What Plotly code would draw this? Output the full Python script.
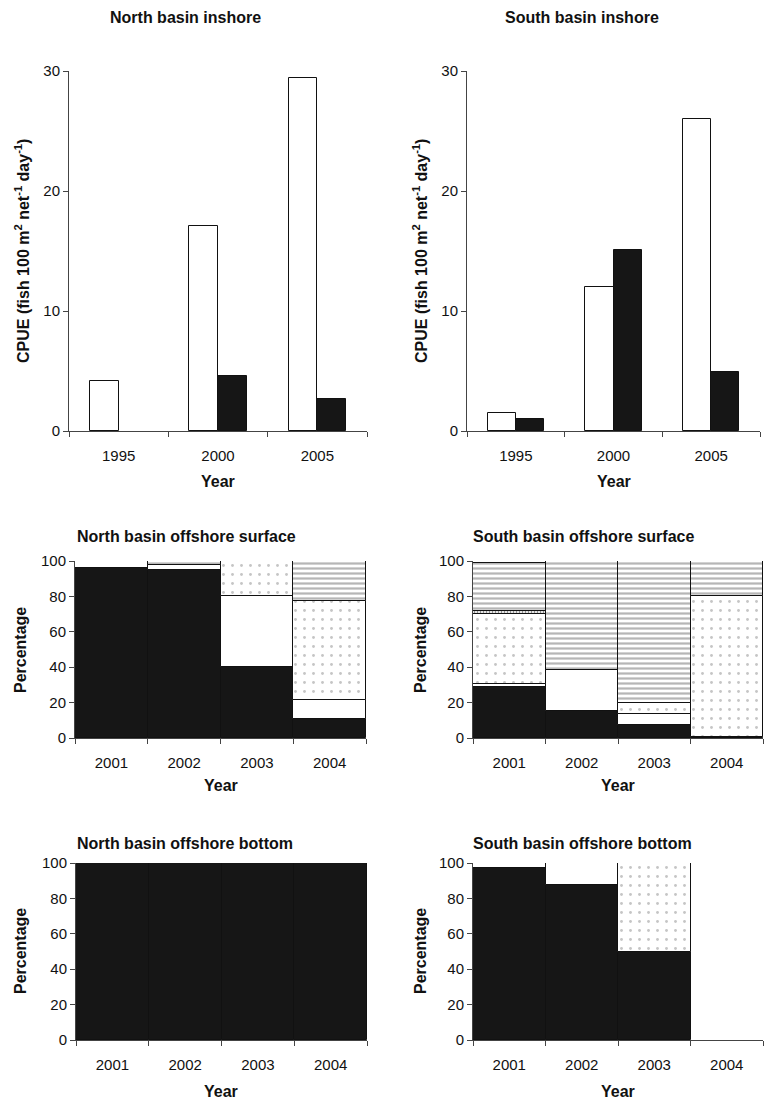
import numpy as np
import plotly.graph_objects as go

W, H = 766, 1102

# ---------------- data ----------------
inshore_years = ["1995", "2000", "2005"]
north_inshore_white = [4.2, 17.1, 29.4]
north_inshore_black = [0.0, 4.6, 2.7]
south_inshore_white = [1.5, 12.0, 26.0]
south_inshore_black = [1.0, 15.1, 4.9]

offshore_years = ["2001", "2002", "2003", "2004"]
# north basin offshore surface (percentages, stacked bottom -> top)
ns_black = [96.0, 95.0, 40.0, 10.5]
ns_white = [4.0, 2.5, 40.0, 11.0]
ns_dotted = [0.0, 0.0, 20.0, 56.0]
ns_dash = [0.0, 0.0, 0.0, 0.0]
ns_hatched = [0.0, 2.5, 0.0, 22.5]
# south basin offshore surface
ss_black = [28.8, 15.2, 7.3, 0.7]
ss_white = [1.7, 23.2, 6.2, 0.0]
ss_dotted = [39.5, 0.0, 6.3, 79.5]
ss_dash = [1.8, 0.0, 0.0, 0.0]
ss_hatched = [27.0, 61.6, 80.2, 19.8]
# north basin offshore bottom
nb_black = [100.0, 100.0, 100.0, 100.0]
nb_white = [0.0, 0.0, 0.0, 0.0]
nb_dotted = [0.0, 0.0, 0.0, 0.0]
nb_dash = [0.0, 0.0, 0.0, 0.0]
nb_hatched = [0.0, 0.0, 0.0, 0.0]
# south basin offshore bottom
sb_black = [97.2, 87.6, 50.0, 0.0]
sb_white = [2.8, 12.4, 0.0, 0.0]
sb_dotted = [0.0, 0.0, 50.0, 0.0]
sb_dash = [0.0, 0.0, 0.0, 0.0]
sb_hatched = [0.0, 0.0, 0.0, 0.0]

FONT = "Liberation Sans, Arial, Helvetica, sans-serif"
AXC = "#444444"
BLACK = "#161616"
TICK_SIZE = 15
LABEL_SIZE = 16

fig = go.Figure()


def px_x(p):
    return p / W


def px_y(p):
    return 1 - p / H


# panel pixel boxes: (left, right, top, bottom)
panels = {
    1: (69, 367, 71, 431),
    2: (467, 760, 71, 431),
    3: (75, 366, 561, 738),
    4: (473, 763, 561, 738),
    5: (76, 367, 863, 1040),
    6: (473, 763, 863, 1040),
}

layout_axes = {}
for i, (l, r, t, b) in panels.items():
    xa = "xaxis" if i == 1 else f"xaxis{i}"
    ya = "yaxis" if i == 1 else f"yaxis{i}"
    inshore = i <= 2
    layout_axes[xa] = dict(
        domain=[px_x(l), px_x(r)], anchor=f"y{'' if i == 1 else i}",
        type="category", range=[-0.5, (2.5 if inshore else 3.5)],
        showline=True, linecolor=AXC, linewidth=1, ticks="outside",
        tickson="boundaries", ticklen=5, tickcolor=AXC, showgrid=False,
        zeroline=False, tickfont=dict(family=FONT, size=TICK_SIZE, color="#111"),
        ticklabelstandoff=11,
        fixedrange=True, automargin=False,
    )
    layout_axes[ya] = dict(
        domain=[px_y(b), px_y(t)], anchor=f"x{'' if i == 1 else i}",
        range=[0, 30] if inshore else [0, 100],
        tickvals=[0, 10, 20, 30] if inshore else [0, 20, 40, 60, 80, 100],
        showline=True, linecolor=AXC, linewidth=1, ticks="outside",
        ticklen=5, tickcolor=AXC, showgrid=False, zeroline=False,
        tickfont=dict(family=FONT, size=TICK_SIZE, color="#111"), fixedrange=True,
        automargin=False,
    )

# inshore grouped bars
bw = 0.29
for i, (wv, bv) in {1: (north_inshore_white, north_inshore_black),
                    2: (south_inshore_white, south_inshore_black)}.items():
    xs = "x" if i == 1 else f"x{i}"
    ys = "y" if i == 1 else f"y{i}"
    fig.add_trace(go.Bar(x=inshore_years, y=[v if v > 0 else None for v in wv],
                         width=bw, offset=-bw, xaxis=xs, yaxis=ys,
                         marker=dict(color="white", line=dict(color="#111", width=1)),
                         showlegend=False))
    fig.add_trace(go.Bar(x=inshore_years, y=[v if v > 0 else None for v in bv],
                         width=bw, offset=0, xaxis=xs, yaxis=ys,
                         marker=dict(color=BLACK, line=dict(color="#111", width=1)),
                         showlegend=False))

styles = [
    dict(color=BLACK),
    dict(color="white"),
    dict(color="white", pattern=dict(shape=".", fgcolor="#8c8c8c", bgcolor="white",
                                      size=9, solidity=0.08)),
    dict(color="white", pattern=dict(shape="|", fgcolor="#222", bgcolor="white",
                                      size=3, solidity=0.5)),
    dict(color="white", pattern=dict(shape="-", fgcolor="#6e6e6e", bgcolor="white",
                                      size=5, solidity=0.45)),
]

stacks = {
    3: [ns_black, ns_white, ns_dotted, ns_dash, ns_hatched],
    4: [ss_black, ss_white, ss_dotted, ss_dash, ss_hatched],
    5: [nb_black, nb_white, nb_dotted, nb_dash, nb_hatched],
    6: [sb_black, sb_white, sb_dotted, sb_dash, sb_hatched],
}
for i, series in stacks.items():
    xs, ys = f"x{i}", f"y{i}"
    base = np.zeros(len(offshore_years))
    for s, st in zip(series, styles):
        vals = np.array(s, dtype=float)
        yv = [v if v > 0 else None for v in vals]
        m = dict(st)
        m["line"] = dict(color="#111", width=1)
        fig.add_trace(go.Bar(x=offshore_years, y=yv, base=base.copy(), width=1.0,
                             xaxis=xs, yaxis=ys, marker=m, showlegend=False))
        base = base + vals

ann = []


def add_text(text, x, y, size=LABEL_SIZE, bold=True, angle=0, xanchor="center"):
    ann.append(dict(text=f"<b>{text}</b>" if bold else text, x=px_x(x), y=px_y(y),
                    xref="paper", yref="paper", showarrow=False, textangle=angle,
                    xanchor=xanchor, yanchor="middle",
                    font=dict(family=FONT, size=size, color="#111")))


# titles
add_text("North basin inshore", 185, 18)
add_text("South basin inshore", 582, 18)
add_text("North basin offshore surface", 75, 536, xanchor="left")
add_text("South basin offshore surface", 471, 536, xanchor="left")
add_text("North basin offshore bottom", 75, 843, xanchor="left")
add_text("South basin offshore bottom", 471, 843, xanchor="left")

# axis titles
cpue = "CPUE (fish 100 m<sup>2</sup> net<sup>-1</sup> day<sup>-1</sup>)"
add_text(cpue, 22, 251, angle=-90)
add_text(cpue, 420, 251, angle=-90)
add_text("Percentage", 20, 650, angle=-90)
add_text("Percentage", 420, 650, angle=-90)
add_text("Percentage", 20, 951, angle=-90)
add_text("Percentage", 420, 951, angle=-90)
add_text("Year", 218, 481)
add_text("Year", 614, 481)
add_text("Year", 221, 786)
add_text("Year", 618, 786)
add_text("Year", 221, 1091)
add_text("Year", 618, 1091)

fig.update_layout(
    width=W, height=H,
    margin=dict(l=0, r=0, t=0, b=0, pad=0, autoexpand=False),
    paper_bgcolor="white", plot_bgcolor="white",
    barmode="overlay", bargap=0, showlegend=False,
    annotations=ann, font=dict(family=FONT, color="#111"),
    **layout_axes,
)

fig.write_html(
    "out.html",
    config={"displayModeBar": False},
    post_script=(
        "document.documentElement.style.margin='0';"
        "document.body.style.margin='0';"
        "document.documentElement.style.overflow='hidden';"
        "document.body.style.overflow='hidden';"
        "var gd=document.getElementById('{plot_id}');"
        "gd.style.position='fixed';gd.style.top='0px';gd.style.left='0px';"
    ),
)
